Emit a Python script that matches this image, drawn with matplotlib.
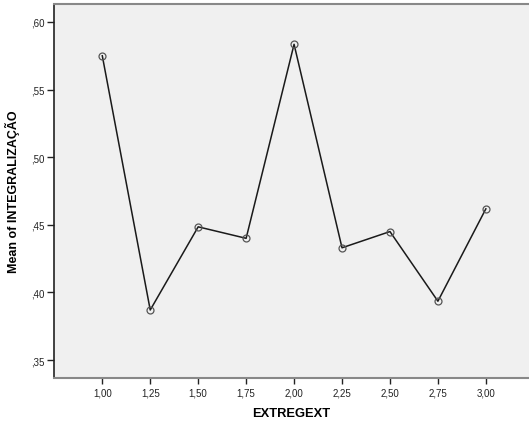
import numpy as np
import matplotlib
matplotlib.use('Agg')
import matplotlib.pyplot as plt
from matplotlib.ticker import FuncFormatter

# data
extregext = [1.00, 1.25, 1.50, 1.75, 2.00, 2.25, 2.50, 2.75, 3.00]
mean_integ = [0.575, 0.387, 0.4485, 0.440, 0.5835, 0.433, 0.445, 0.3935, 0.4618]
x_ticks = [1.00, 1.25, 1.50, 1.75, 2.00, 2.25, 2.50, 2.75, 3.00]
y_ticks = [0.35, 0.40, 0.45, 0.50, 0.55, 0.60]

plt.rcParams['font.family'] = ['Liberation Sans', 'DejaVu Sans']

fig = plt.figure(figsize=(5.29, 4.27), dpi=100)
ax = fig.add_axes([0.102, 0.1124, 0.898, 0.8759])
ax.set_facecolor('#f0f0f0')

ax.plot(extregext, mean_integ, color='#1a1a1a', linewidth=1.1, zorder=2)
ax.plot(extregext, mean_integ, linestyle='none', marker='o', markersize=5,
        markerfacecolor='none', markeredgecolor='#555555', markeredgewidth=0.9, zorder=3)

ax.set_xlim(0.748, 3.225)
ax.set_ylim(0.3367, 0.6133)
ax.set_xticks(x_ticks)
ax.set_yticks(y_ticks)
ax.xaxis.set_major_formatter(FuncFormatter(lambda v, p: ('%.2f' % v).replace('.', ',')))
ax.yaxis.set_major_formatter(FuncFormatter(lambda v, p: ('%.2f' % v).replace('0.', ',')))
ax.tick_params(axis='both', direction='out', length=5, width=1, colors='#222222', labelsize=7, pad=2)
ax.tick_params(axis='x', length=4, pad=3)

ax.spines['right'].set_visible(False)
ax.spines['top'].set_color('#888888')
ax.spines['top'].set_linewidth(1.5)
ax.spines['bottom'].set_color('#888888')
ax.spines['bottom'].set_linewidth(1.5)
ax.spines['left'].set_color('#222222')
ax.spines['left'].set_linewidth(1.2)

ax.set_xlabel('EXTREGEXT', fontsize=9.3, fontweight='bold')
ax.set_ylabel('Mean of INTEGRALIZAÇÃO', fontsize=9, fontweight='bold')
ax.xaxis.set_label_coords(0.5, -0.078)
ax.yaxis.set_label_coords(-0.072, 0.5)

fig.savefig('out.png', dpi=100, facecolor='white')
